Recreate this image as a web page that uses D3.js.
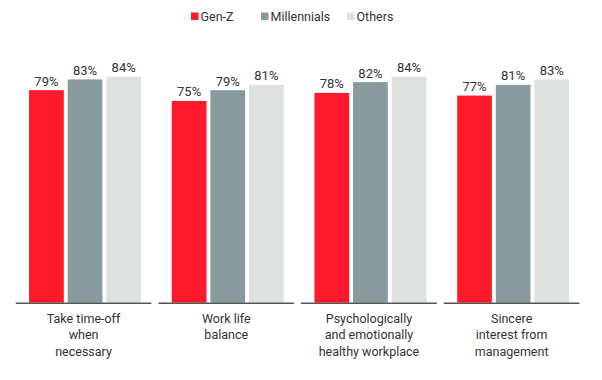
<!DOCTYPE html>
<html><head><meta charset="utf-8">
<script src="https://cdn.jsdelivr.net/npm/d3@7"></script>
<style>body{margin:0;background:#fff;} svg{display:block;font-family:Roboto, "Noto Sans", sans-serif;}</style>
</head><body><svg id="c" width="602" height="380"></svg>
<script>
const categories = [
  ["Take time-off", "when", "necessary"],
  ["Work life", "balance"],
  ["Psychologically", "and emotionally", "healthy workplace"],
  ["Sincere", "interest from", "management"]
];
const seriesNames = ["Gen-Z", "Millennials", "Others"];
const genZ = [79, 75, 78, 77];
const millennials = [83, 79, 82, 81];
const others = [84, 81, 84, 83];
const colors = ["#ff1a2b", "#879a9e", "#dde2e0"];

const seriesValues = [genZ, millennials, others];
const svg = d3.select("#c");
const x0 = d3.scaleBand().domain(d3.range(categories.length)).range([13.7, 584.5]).paddingInner(0).paddingOuter(0);
const x1 = d3.scaleBand().domain(d3.range(seriesNames.length)).range([0, 112]).paddingInner(0.1);
const y = d3.scaleLinear().domain([0, 100]).range([302.7, 33.7]);

const g = svg.selectAll("g.cat").data(categories).enter().append("g")
  .attr("transform", (d, i) => `translate(${x0(i)},0)`);

g.each(function(d, i) {
  const gg = d3.select(this);
  const bw = x0.bandwidth();
  const off = (bw - 112) / 2;
  seriesValues.forEach((vals, s) => {
    gg.append("rect")
      .attr("x", off + x1(s)).attr("width", x1.bandwidth())
      .attr("y", y(vals[i])).attr("height", y(0) - y(vals[i]))
      .attr("fill", colors[s]);
    gg.append("text")
      .attr("x", off + x1(s) + x1.bandwidth() / 2)
      .attr("y", y(vals[i]) - 4.5)
      .attr("text-anchor", "middle")
      .attr("font-size", 13).attr("fill", "#333")
      .text(vals[i] + "%");
  });
  gg.append("line")
    .attr("x1", 2).attr("x2", bw - 5)
    .attr("y1", y(0) + 0.5).attr("y2", y(0) + 0.5)
    .attr("stroke", "#555").attr("stroke-width", 1.5);
  const t = gg.append("text").attr("text-anchor", "middle").attr("font-size", 12.5).attr("fill", "#333");
  d.forEach((line, k) => {
    t.append("tspan").attr("x", bw / 2 - 1.5).attr("y", 322.5 + k * 16.5).text(line);
  });
});

// legend
const legendX = [191, 261, 347];
const lg = svg.append("g");
seriesNames.forEach((n, s) => {
  lg.append("rect").attr("x", legendX[s]).attr("y", 12.5).attr("width", 7.5).attr("height", 7.5).attr("fill", colors[s]);
  lg.append("text").attr("x", legendX[s] + 9.5).attr("y", 20.5).attr("font-size", 12.5).attr("fill", "#333").text(n);
});
</script>
</body></html>
